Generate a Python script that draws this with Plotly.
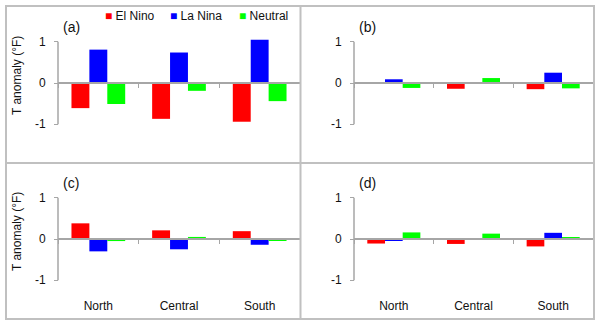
import plotly.graph_objects as go

W, H = 600, 323

regions = ["North", "Central", "South"]
phases = ["El Nino", "La Nina", "Neutral"]
phase_colors = ["#ff0000", "#0000ff", "#00ff00"]
panel_tags = ["(a)", "(b)", "(c)", "(d)"]
y_ticks = [-1, 0, 1]
y_ticktext = ["-1", "0", "1"]
y_title = "T anomaly (°F)"

# temperature anomalies (°F) for North, Central, South
a_el_nino = [-0.61, -0.87, -0.94]
a_la_nina = [0.81, 0.74, 1.05]
a_neutral = [-0.51, -0.19, -0.44]

b_el_nino = [0.01, -0.14, -0.15]
b_la_nina = [0.09, 0.00, 0.25]
b_neutral = [-0.12, 0.12, -0.13]

c_el_nino = [0.38, 0.21, 0.19]
c_la_nina = [-0.30, -0.25, -0.14]
c_neutral = [-0.05, 0.05, -0.03]

d_el_nino = [-0.11, -0.12, -0.18]
d_la_nina = [-0.04, 0.00, 0.15]
d_neutral = [0.16, 0.13, 0.03]

panels = [
    [a_el_nino, a_la_nina, a_neutral],
    [b_el_nino, b_la_nina, b_neutral],
    [c_el_nino, c_la_nina, c_neutral],
    [d_el_nino, d_la_nina, d_neutral],
]

FONT = "Liberation Sans, Arial, sans-serif"
GREY = "#a6a6a6"
FRAME = "#c0c0c0"
TEXT = "#111111"

# pixel geometry of each panel: plot left/right, zero line, domain top/bottom
UNIT = 41.2  # pixels per °F
geom = [
    dict(x0=58, x1=300, zero=83, top=22, bottom=152),
    dict(x0=354, x1=593, zero=83, top=22, bottom=152),
    dict(x0=58, x1=300, zero=239, top=176, bottom=300),
    dict(x0=354, x1=593, zero=239, top=176, bottom=300),
]

fig = go.Figure()
layout = {}
shapes = []
annotations = []

for i, (vals, g) in enumerate(zip(panels, geom)):
    n = "" if i == 0 else str(i + 1)
    xa, ya = "x" + n, "y" + n
    for name, col, v in zip(phases, phase_colors, vals):
        fig.add_trace(go.Bar(x=regions, y=v, name=name, marker_color=col,
                             marker_line_width=0, xaxis=xa, yaxis=ya,
                             showlegend=False))

    y_hi = (g["zero"] - g["top"]) / UNIT
    y_lo = -(g["bottom"] - g["zero"]) / UNIT
    bottom_row = i >= 2

    layout["xaxis" + n] = dict(
        domain=[g["x0"] / W, g["x1"] / W], type="category",
        range=[-0.5, 2.5], anchor="free", position=1 - g["zero"] / H,
        showline=True, linecolor=GREY, linewidth=1.5,
        tickson="boundaries", ticks="outside", ticklen=4, tickcolor=GREY,
        tickwidth=1, showgrid=False, zeroline=False,
        showticklabels=bottom_row, ticklabelstandoff=56,
        tickfont=dict(family=FONT, size=12, color=TEXT),
    )
    layout["yaxis" + n] = dict(
        domain=[1 - g["bottom"] / H, 1 - g["top"] / H],
        range=[y_lo, y_hi], anchor="free", position=g["x0"] / W,
        tickvals=y_ticks, ticktext=y_ticktext, ticks="outside", ticklen=4,
        tickcolor=GREY, tickwidth=1, showline=False, showgrid=False,
        zeroline=False, ticklabelstandoff=6,
        tickfont=dict(family=FONT, size=12, color=TEXT),
    )
    # value axis spans -1 to 1 only
    shapes.append(dict(type="line", xref="paper", yref=ya,
                       x0=g["x0"] / W, x1=g["x0"] / W, y0=-1, y1=1,
                       line=dict(color=GREY, width=1.5)))

    annotations.append(dict(text=panel_tags[i], xref="paper", yref="paper",
                            x=(g["x0"] + 3) / W, y=1 - (g["zero"] - 56) / H,
                            xanchor="left", yanchor="middle", showarrow=False,
                            font=dict(family=FONT, size=14, color=TEXT)))
    if i % 2 == 0:
        annotations.append(dict(text=y_title, xref="paper", yref="paper",
                                x=17 / W, y=1 - (g["zero"] - 7) / H,
                                textangle=-90, xanchor="center", yanchor="middle",
                                showarrow=False,
                                font=dict(family=FONT, size=12, color=TEXT)))

# legend row across the top of panel (a)
legend_x = [103, 168, 237]
for name, col, lx in zip(phases, phase_colors, legend_x):
    annotations.append(dict(
        text=f'<span style="color:{col}">■</span> {name}',
        xref="paper", yref="paper", x=lx / W, y=1 - 16 / H,
        xanchor="left", yanchor="middle", showarrow=False,
        font=dict(family=FONT, size=12, color=TEXT)))

# outer frame and dividers between the four panels
shapes += [
    dict(type="rect", xref="paper", yref="paper", x0=6 / W, x1=594 / W,
         y0=1 - 319 / H, y1=1 - 6 / H, line=dict(color=FRAME, width=2)),
    dict(type="line", xref="paper", yref="paper", x0=300.5 / W, x1=300.5 / W,
         y0=1 - 319 / H, y1=1 - 6 / H, line=dict(color=FRAME, width=2)),
    dict(type="line", xref="paper", yref="paper", x0=6 / W, x1=594 / W,
         y0=1 - 163 / H, y1=1 - 163 / H, line=dict(color=FRAME, width=2)),
]

fig.update_layout(
    width=W, height=H, margin=dict(l=0, r=0, t=0, b=0),
    paper_bgcolor="white", plot_bgcolor="rgba(0,0,0,0)",
    barmode="group", bargap=0.334, bargroupgap=0,
    shapes=shapes, annotations=annotations, showlegend=False,
    font=dict(family=FONT, size=12, color=TEXT),
    **layout,
)

fig.write_html("out.html")
